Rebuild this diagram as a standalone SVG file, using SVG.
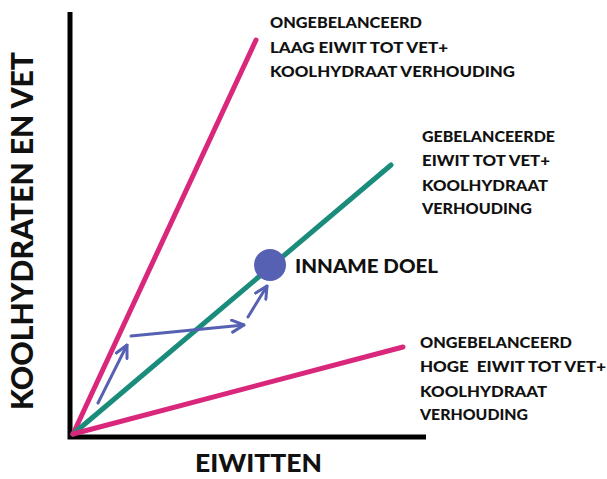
<svg xmlns="http://www.w3.org/2000/svg" width="607" height="479" viewBox="0 0 607 479">
<defs>
<style>
.t{font-family:Lato,"Liberation Sans",sans-serif;font-weight:900;fill:#111;}
.lbl{font-size:15px;}
.pink{stroke:#d9287b;stroke-width:5;stroke-linecap:round;fill:none;}
.green{stroke:#1a8c7c;stroke-width:5;stroke-linecap:round;fill:none;}
.axis{stroke:#000;stroke-width:5;fill:none;}
.arr{stroke:#5661b3;stroke-width:3;fill:none;stroke-linecap:round;}
</style>
<marker id="ah" viewBox="0 0 10 10" refX="9" refY="5" markerWidth="5" markerHeight="5" orient="auto" markerUnits="strokeWidth">
<path d="M1,1 L9,5 L1,9" fill="none" stroke="#5661b3" stroke-width="2" stroke-linecap="round" stroke-linejoin="round"/>
</marker>
</defs>
<rect width="607" height="479" fill="#fff"/>
<g id="axes">
<path class="axis" d="M70,12 V437 H426"/>
</g>
<g id="connectors">
<line id="line-low-protein" class="pink" x1="73" y1="434" x2="256" y2="40"/>
<line id="line-balanced" class="green" x1="73" y1="434" x2="391" y2="165"/>
<line id="line-high-protein" class="pink" x1="73" y1="434" x2="403" y2="347"/>
<line class="arr" x1="98" y1="403" x2="127" y2="345" marker-end="url(#ah)"/>
<line class="arr" x1="131" y1="336" x2="244" y2="325" marker-end="url(#ah)"/>
<line class="arr" x1="248" y1="317" x2="267" y2="286" marker-end="url(#ah)"/>
</g>
<g id="target">
<circle cx="270" cy="265" r="16" fill="#5661b3"/>
<text class="t" x="295" y="273" font-size="19" textLength="143" lengthAdjust="spacingAndGlyphs">INNAME DOEL</text>
</g>
<g id="label-low">
<text class="t lbl" x="270" y="28" textLength="152" lengthAdjust="spacingAndGlyphs">ONGEBELANCEERD</text>
<text class="t lbl" x="270" y="53" textLength="178" lengthAdjust="spacingAndGlyphs">LAAG EIWIT TOT VET+</text>
<text class="t lbl" x="270" y="77" textLength="245" lengthAdjust="spacingAndGlyphs">KOOLHYDRAAT VERHOUDING</text>
</g>
<g id="label-balanced">
<text class="t lbl" x="422" y="142" textLength="133" lengthAdjust="spacingAndGlyphs">GEBELANCEERDE</text>
<text class="t lbl" x="422" y="166" textLength="128" lengthAdjust="spacingAndGlyphs">EIWIT TOT VET+</text>
<text class="t lbl" x="422" y="191" textLength="126" lengthAdjust="spacingAndGlyphs">KOOLHYDRAAT</text>
<text class="t lbl" x="422" y="214" textLength="110" lengthAdjust="spacingAndGlyphs">VERHOUDING</text>
</g>
<g id="label-high">
<text class="t lbl" x="420" y="348" textLength="152" lengthAdjust="spacingAndGlyphs">ONGEBELANCEERD</text>
<text class="t lbl" x="420" y="372" textLength="186" lengthAdjust="spacingAndGlyphs" xml:space="preserve">HOGE  EIWIT TOT VET+</text>
<text class="t lbl" x="420" y="397" textLength="127" lengthAdjust="spacingAndGlyphs">KOOLHYDRAAT</text>
<text class="t lbl" x="420" y="420" textLength="108" lengthAdjust="spacingAndGlyphs">VERHOUDING</text>
</g>
<g id="axis-labels">
<text class="t" x="195" y="472" font-size="24" textLength="127" lengthAdjust="spacingAndGlyphs">EIWITTEN</text>
<text class="t" transform="translate(33,410) rotate(-90)" font-size="30" textLength="358" lengthAdjust="spacingAndGlyphs">KOOLHYDRATEN EN VET</text>
</g>
</svg>
